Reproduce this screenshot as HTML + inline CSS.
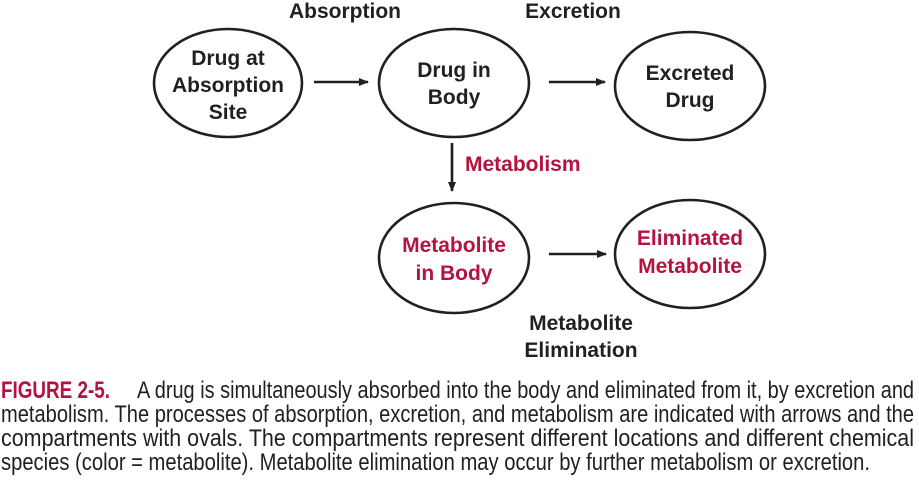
<!DOCTYPE html>
<html><head><meta charset="utf-8"><style>
html,body{margin:0;padding:0;background:#fff;}
svg{display:block;}
.b{font-family:"Liberation Sans",Arial,sans-serif;font-weight:bold;font-size:21px;fill:#231f20;text-anchor:middle;}
.r{fill:#b5123f;}
.c{font-family:"Liberation Sans Narrow","Liberation Sans",sans-serif;font-size:24px;fill:#231f20;}
</style></head><body>
<svg width="919" height="487" viewBox="0 0 919 487">
<defs><marker id="ah" markerWidth="10" markerHeight="8" refX="9" refY="4" orient="auto" markerUnits="userSpaceOnUse"><path d="M0,0 L10,4 L0,8 Z" fill="#231f20"/></marker></defs>
<g fill="none" stroke="#231f20" stroke-width="2.6">
<ellipse cx="228" cy="83" rx="74" ry="54"/>
<ellipse cx="454" cy="83" rx="75" ry="54"/>
<ellipse cx="690" cy="86" rx="75" ry="54"/>
<ellipse cx="454" cy="258" rx="75" ry="55"/>
<ellipse cx="690" cy="254" rx="75" ry="54"/>
<line x1="314" y1="82" x2="368" y2="82" marker-end="url(#ah)"/>
<line x1="549" y1="82" x2="605" y2="82" marker-end="url(#ah)"/>
<line x1="452" y1="143" x2="452" y2="191" marker-end="url(#ah)"/>
<line x1="549" y1="254" x2="606" y2="254" marker-end="url(#ah)"/>
</g>
<text class="b" x="345" y="18">Absorption</text>
<text class="b" x="573" y="18">Excretion</text>
<text class="b r" x="465" y="171" style="text-anchor:start">Metabolism</text>
<g><text class="b" x="581" y="330">Metabolite</text><text class="b" x="581" y="357">Elimination</text></g>
<g><text class="b" x="228" y="65">Drug at</text><text class="b" x="228" y="92">Absorption</text><text class="b" x="228" y="119">Site</text></g>
<g><text class="b" x="454" y="77">Drug in</text><text class="b" x="454" y="104">Body</text></g>
<g><text class="b" x="690" y="80">Excreted</text><text class="b" x="690" y="107">Drug</text></g>
<g><text class="b r" x="454" y="252">Metabolite</text><text class="b r" x="454" y="280">in Body</text></g>
<g><text class="b r" x="690" y="245">Eliminated</text><text class="b r" x="690" y="273">Metabolite</text></g>
<g>
<text class="c" x="1" y="398" textLength="109" lengthAdjust="spacingAndGlyphs" font-weight="bold" style="fill:#b5123f">FIGURE 2-5.</text>
<text class="c" x="137" y="398" textLength="777" lengthAdjust="spacingAndGlyphs">A drug is simultaneously absorbed into the body and eliminated from it, by excretion and</text>
<text class="c" x="1" y="422" textLength="913" lengthAdjust="spacingAndGlyphs">metabolism. The processes of absorption, excretion, and metabolism are indicated with arrows and the</text>
<text class="c" x="1" y="446" textLength="913" lengthAdjust="spacingAndGlyphs">compartments with ovals. The compartments represent different locations and different chemical</text>
<text class="c" x="1" y="470" textLength="869" lengthAdjust="spacingAndGlyphs">species (color = metabolite). Metabolite elimination may occur by further metabolism or excretion.</text>
</g>
</svg>
</body></html>
